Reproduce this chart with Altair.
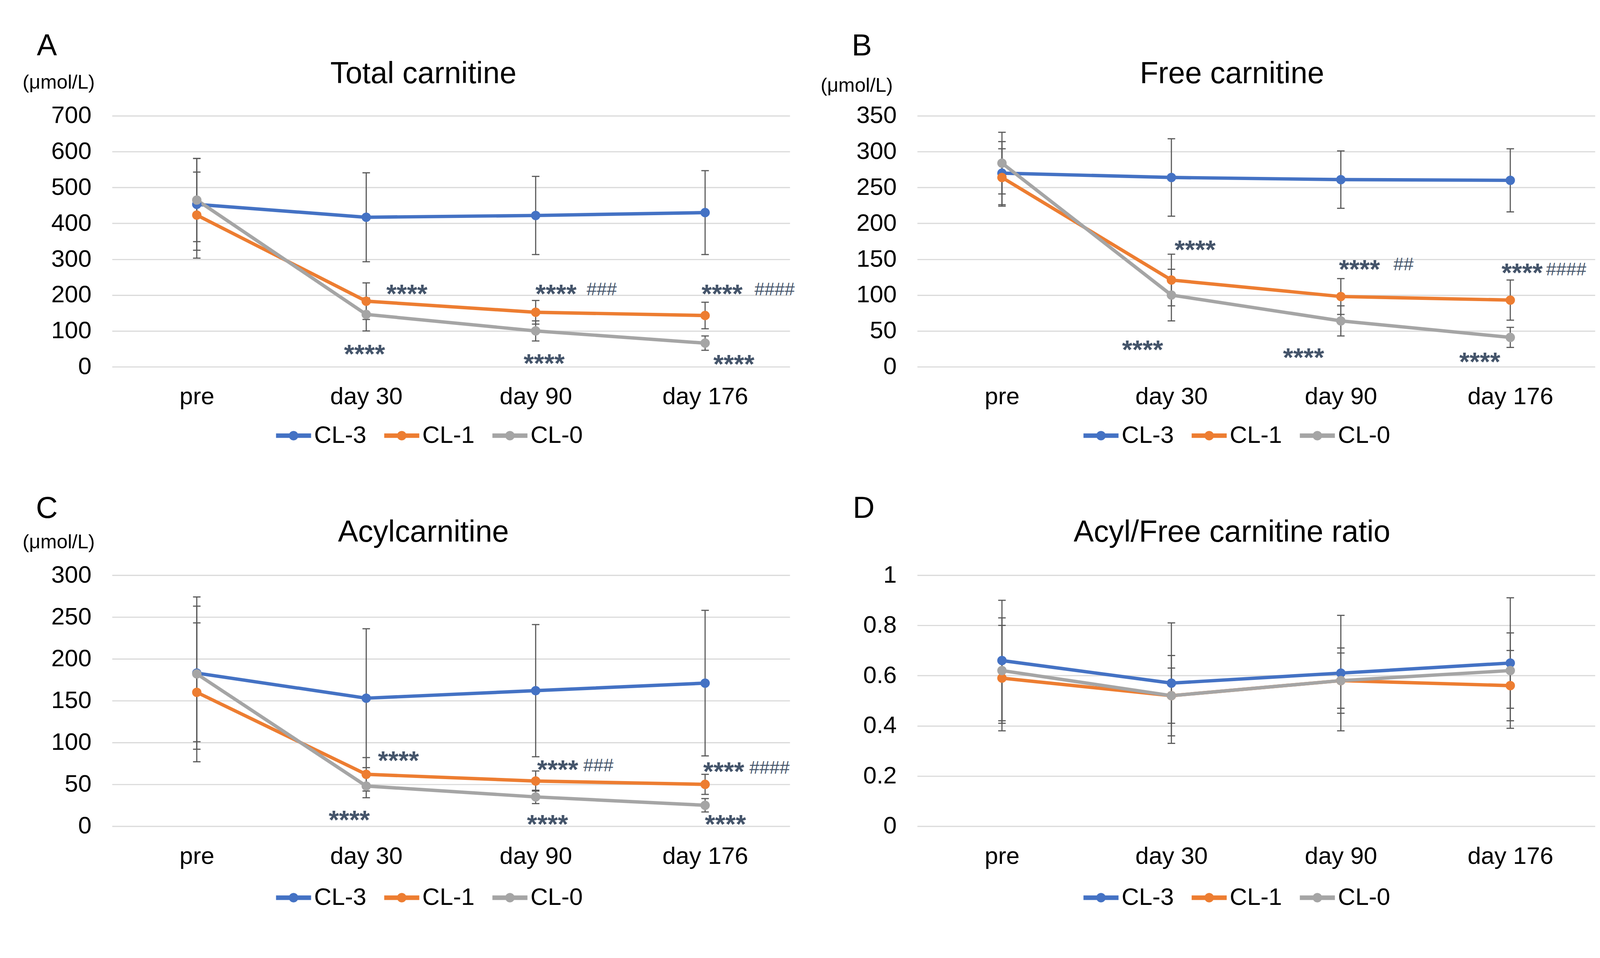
import altair as alt
import pandas as pd

FONT = "Liberation Sans"
CATEGORIES = ["pre", "day 30", "day 90", "day 176"]
GROUPS = ["CL-3", "CL-1", "CL-0"]
COLORS = ["#4472C4", "#ED7D31", "#A5A5A5"]
ERR_COLOR = "#595959"
ANN_COLOR = "#44546A"

# Panel A: Total carnitine (mean, SD)
TOTAL_CL3 = [453, 417, 422, 430]
TOTAL_CL3_SD = [128, 124, 109, 117]
TOTAL_CL1 = [423, 183, 152, 143]
TOTAL_CL1_SD = [120, 51, 33, 37]
TOTAL_CL0 = [465, 146, 100, 66]
TOTAL_CL0_SD = [116, 46, 28, 20]

# Panel B: Free carnitine
FREE_CL3 = [270, 264, 261, 260]
FREE_CL3_SD = [44, 54, 40, 44]
FREE_CL1 = [264, 121, 98, 93]
FREE_CL1_SD = [40, 36, 25, 28]
FREE_CL0 = [284, 100, 64, 41]
FREE_CL0_SD = [43, 36, 21, 14]

# Panel C: Acylcarnitine
ACYL_CL3 = [183, 153, 162, 171]
ACYL_CL3_SD = [91, 83, 79, 87]
ACYL_CL1 = [160, 62, 54, 50]
ACYL_CL1_SD = [83, 20, 12, 12]
ACYL_CL0 = [182, 48, 35, 25]
ACYL_CL0_SD = [81, 14, 8, 8]

# Panel D: Acyl/Free carnitine ratio
RATIO_CL3 = [0.66, 0.57, 0.61, 0.65]
RATIO_CL3_SD = [0.24, 0.24, 0.23, 0.26]
RATIO_CL1 = [0.59, 0.52, 0.58, 0.56]
RATIO_CL1_SD = [0.21, 0.16, 0.13, 0.14]
RATIO_CL0 = [0.62, 0.52, 0.58, 0.62]
RATIO_CL0_SD = [0.21, 0.11, 0.11, 0.15]

# significance marks: (text, category index, offset in categories, value level)
TOTAL_SIG = [
    ("****", 1, 0.24, 211), ("****", 1, -0.01, 44),
    ("****", 2, 0.12, 211), ("###", 2, 0.39, 214), ("****", 2, 0.05, 18),
    ("****", 3, 0.10, 211), ("####", 3, 0.41, 214), ("****", 3, 0.17, 15),
]
FREE_SIG = [
    ("****", 1, 0.14, 167), ("****", 1, -0.17, 28),
    ("****", 2, 0.11, 140), ("##", 2, 0.37, 142), ("****", 2, -0.22, 17),
    ("****", 3, 0.07, 135), ("####", 3, 0.33, 135), ("****", 3, -0.18, 11),
]
ACYL_SIG = [
    ("****", 1, 0.19, 82), ("****", 1, -0.10, 11),
    ("****", 2, 0.13, 71), ("###", 2, 0.37, 72), ("****", 2, 0.07, 6),
    ("****", 3, 0.11, 69), ("####", 3, 0.38, 69), ("****", 3, 0.12, 6),
]
RATIO_SIG = []

PANELS = [
    dict(letter="A", title="Total carnitine", unit="(μmol/L)", ymax=700, step=100, fmt="d",
         means=[TOTAL_CL3, TOTAL_CL1, TOTAL_CL0], sds=[TOTAL_CL3_SD, TOTAL_CL1_SD, TOTAL_CL0_SD], sig=TOTAL_SIG),
    dict(letter="B", title="Free carnitine", unit="(μmol/L)", ymax=350, step=50, fmt="d",
         means=[FREE_CL3, FREE_CL1, FREE_CL0], sds=[FREE_CL3_SD, FREE_CL1_SD, FREE_CL0_SD], sig=FREE_SIG),
    dict(letter="C", title="Acylcarnitine", unit="(μmol/L)", ymax=300, step=50, fmt="d",
         means=[ACYL_CL3, ACYL_CL1, ACYL_CL0], sds=[ACYL_CL3_SD, ACYL_CL1_SD, ACYL_CL0_SD], sig=ACYL_SIG),
    dict(letter="D", title="Acyl/Free carnitine ratio", unit=None, ymax=1, step=0.2, fmt="~g",
         means=[RATIO_CL3, RATIO_CL1, RATIO_CL0], sds=[RATIO_CL3_SD, RATIO_CL1_SD, RATIO_CL0_SD], sig=RATIO_SIG),
]

# layout (pixels relative to each plot's top-left corner)
LAYOUT = [
    dict(letter=(-173, -184), unit=(-142, -88), title=(826, -110), legend=(435, 802)),
    dict(letter=(-147, -184), unit=(-161, -80), title=(835, -110), legend=(441, 802)),
    dict(letter=(-173, -176), unit=(-142, -88), title=(826, -113), legend=(435, 809)),
    dict(letter=(-142, -176), unit=(-142, -88), title=(835, -113), legend=(441, 809)),
]

W, H = 1798, 666
SYMBOL = ("M-1,-0.13H1V0.13H-1Z "
          "M0.27,0A0.27,0.27,0,1,1,-0.27,0A0.27,0.27,0,1,1,0.27,0Z")


def make_panel(p, lay):
    rows = []
    for g, m, s in zip(GROUPS, p["means"], p["sds"]):
        for i in range(len(CATEGORIES)):
            rows.append({"group": g, "t": i, "mean": m[i], "lo": m[i] - s[i], "hi": m[i] + s[i]})
    df = pd.DataFrame(rows)

    xs = alt.Scale(domain=[-0.5, len(CATEGORIES) - 0.5], nice=False, zero=False)
    ys = alt.Scale(domain=[0, p["ymax"]], nice=False, zero=True)
    cs = alt.Scale(domain=GROUPS, range=COLORS)

    label_expr = "[" + ",".join("'%s'" % c for c in CATEGORIES) + "][datum.value]"
    x_axis = alt.Axis(values=list(range(len(CATEGORIES))), labelExpr=label_expr, grid=False,
                      ticks=False, domain=False, labelFontSize=64, labelPadding=48,
                      labelColor="#000000", labelFont=FONT, title=None, labelAngle=0,
                      labelFlush=False, labelOverlap=False, labelLimit=1000)
    n = int(round(p["ymax"] / p["step"]))
    y_values = [round(k * p["step"], 6) for k in range(n + 1)]
    y_kw = dict(values=y_values, format=p["fmt"], grid=True, gridColor="#D9D9D9", gridWidth=3,
                ticks=False, domain=False, labelFontSize=64, labelPadding=55,
                labelColor="#000000", labelFont=FONT, labelLimit=1000)
    if p["unit"]:
        y_kw.update(title=p["unit"], titleAngle=0, titleX=lay["unit"][0], titleY=lay["unit"][1],
                    titleAlign="center", titleBaseline="middle", titleFontSize=52,
                    titleFontWeight="normal", titleFont=FONT, titleColor="#000000",
                    titleLimit=1000)
    else:
        y_kw.update(title=None)
    y_axis = alt.Axis(**y_kw)

    legend = alt.Legend(
        orient="none", legendX=lay["legend"][0], legendY=lay["legend"][1],
        direction="horizontal", columns=3, title=None, symbolType=SYMBOL,
        symbolSize=8649, symbolStrokeWidth=0, symbolOpacity=1,
        labelFontSize=64, labelFont=FONT, labelColor="#000000", labelOffset=8,
        columnPadding=47, padding=0, labelLimit=1000)

    def X(field):
        return alt.X(field, scale=xs, axis=x_axis)

    def Y(field):
        return alt.Y(field, scale=ys, axis=y_axis)

    base = alt.Chart(df)

    err = base.mark_rule(color=ERR_COLOR, strokeWidth=3).encode(
        x=X("t:Q"), y=Y("lo:Q"), y2="hi:Q")
    cap_lo = base.mark_tick(color=ERR_COLOR, thickness=3, size=20, orient="horizontal", opacity=1).encode(
        x=X("t:Q"), y=Y("lo:Q"))
    cap_hi = base.mark_tick(color=ERR_COLOR, thickness=3, size=20, orient="horizontal", opacity=1).encode(
        x=X("t:Q"), y=Y("hi:Q"))
    line = base.mark_line(strokeWidth=9).encode(
        x=X("t:Q"), y=Y("mean:Q"),
        color=alt.Color("group:N", scale=cs, legend=legend),
        detail="group:N",
    )
    pts = base.mark_circle(size=620, opacity=1).encode(
        x=X("t:Q"), y=Y("mean:Q"),
        color=alt.Color("group:N", scale=cs, legend=legend),
    )

    layers = [err, cap_lo, cap_hi, line, pts]

    if p["sig"]:
        ann = pd.DataFrame([{"x": i + f, "y": v, "txt": t, "star": t.startswith("*")}
                            for (t, i, f, v) in p["sig"]])
        stars = alt.Chart(ann[ann["star"]]).mark_text(
            font=FONT, fontSize=70, fontWeight="bold", color=ANN_COLOR,
            align="center", baseline="alphabetic", dy=31).encode(
            x=X("x:Q"), y=Y("y:Q"), text="txt:N")
        hashes = alt.Chart(ann[~ann["star"]]).mark_text(
            font=FONT, fontSize=48, color=ANN_COLOR,
            align="center", baseline="alphabetic", dy=14).encode(
            x=X("x:Q"), y=Y("y:Q"), text="txt:N")
        layers += [stars, hashes]

    letter = alt.Chart(pd.DataFrame({"s": [p["letter"]]})).mark_text(
        font=FONT, fontSize=80, align="center", baseline="middle", color="#000000").encode(
        x=alt.value(lay["letter"][0]), y=alt.value(lay["letter"][1]), text="s:N")
    title = alt.Chart(pd.DataFrame({"s": [p["title"]]})).mark_text(
        font=FONT, fontSize=80, align="center", baseline="middle", color="#000000").encode(
        x=alt.value(lay["title"][0]), y=alt.value(lay["title"][1]), text="s:N")
    layers += [letter, title]

    return alt.layer(*layers).properties(width=W, height=H)


panels = [make_panel(p, lay) for p, lay in zip(PANELS, LAYOUT)]

chart = (
    alt.concat(*panels, columns=2, spacing={"row": 122, "column": 68})
    .resolve_scale(x="independent", y="independent", color="independent")
    .resolve_legend(color="independent")
    .properties(padding={"left": 51, "top": 32, "right": 5, "bottom": 5})
    .configure(font=FONT)
    .configure_view(stroke=None)
)

chart.save("out.html", embed_options={"renderer": "svg", "actions": False})
